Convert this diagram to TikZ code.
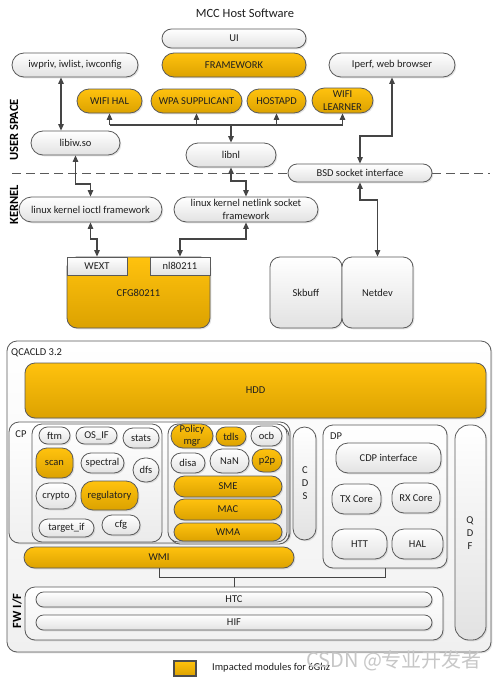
\documentclass[tikz,border=0pt]{standalone}
\usepackage{fontspec}
\setmainfont{Carlito}
\newfontfamily\cjkfont{Noto Sans CJK SC}
\usetikzlibrary{arrows.meta,shadows,calc}
\definecolor{orT}{HTML}{FFC20E}
\definecolor{orB}{HTML}{DCA200}
\definecolor{bd}{HTML}{5A5A5A}
\definecolor{ln}{HTML}{454545}
\definecolor{wB}{HTML}{E2E2E2}
\definecolor{cB}{HTML}{F0F0F0}
\newcommand\bx[7]{%
 \pgfmathsetmacro\rsW{(#4)-(#2)}%
 \pgfmathsetmacro\rsH{(#5)-(#3)}%
 \pgfmathsetmacro\rsR{min(\rsW,\rsH)/2}%
 \node[rounded corners=\rsR pt,#6,minimum width=\rsW pt,minimum height=\rsH pt] (#1) at ({((#2)+(#4))/2},{((#3)+(#5))/2}) {#7};}
\tikzset{
 base/.style={draw=bd, line width=0.8pt, inner sep=0.5pt, align=center, text=black!88},
 shd/.style={drop shadow={shadow xshift=1.3pt,shadow yshift=-1.3pt,opacity=0.22}},
 W/.style={base, top color=white, bottom color=wB, shd},
 O/.style={base, top color=orT, bottom color=orB, shd},
 C/.style={base, top color=white, bottom color=cB, rounded corners=10pt, shd},
 G/.style={base, top color=white, bottom color=wB!70, rounded corners=10pt},
 cn/.style={draw=ln, line width=1.1pt},
 lab/.style={font=\bfseries\fontsize{12.5}{14}\selectfont, inner sep=0pt},
 plain/.style={inner sep=0pt, text=black!88},
}
\begin{document}
\begin{tikzpicture}[x=1pt,y=-1pt,font=\fontsize{10.5}{13}\selectfont,>={Triangle[length=6.5pt,width=5.5pt]}]
\fill[white] (0,0) rectangle (494,680);
\useasboundingbox (0,0) rectangle (494,680);
% helper coordinates
\coordinate (c61) at (61,0);
\coordinate (bus) at (0,125);
\coordinate (y136) at (0,136);
\coordinate (y181) at (0,181);
\coordinate (y184) at (0,184);
\coordinate (y200) at (0,200);
\coordinate (y239) at (0,239);
\coordinate (y577) at (0,577);
% labels
\node[plain,font=\fontsize{12.5}{14}\selectfont] (title) at (245,13) {MCC Host Software};
\node[lab,rotate=90] (us) at (14,130) {USER SPACE};
\node[lab,rotate=90] (kn) at (14,205) {KERNEL};
% dashed separator
\draw[draw=bd,line width=1pt,dash pattern=on 9pt off 5pt] (12,173) -- (490,173);
% user space
\bx{ui}{162}{29}{306}{48}{W}{UI}
\bx{fw}{162}{53}{306}{77}{O}{FRAMEWORK}
\bx{iwpriv}{12}{53}{138}{77}{W}{iwpriv, iwlist, iwconfig}
\bx{iperf}{329}{53}{455}{77}{W}{Iperf, web browser}
\bx{wifihal}{77}{89}{142}{113}{O}{WIFI HAL}
\bx{wpa}{151}{89}{242}{113}{O}{WPA SUPPLICANT}
\bx{hostapd}{247}{89}{306}{113}{O}{HOSTAPD}
\bx{wifil}{312}{88}{373}{113}{O,font=\fontsize{10.5}{12.5}\selectfont}{WIFI\\LEARNER}
\bx{libiw}{31}{131}{120}{155}{W}{libiw.so}
\bx{libnl}{186}{143}{276}{167}{W}{libnl}
\bx{bsd}{288}{164}{432}{182}{W}{BSD socket interface}
% kernel
\bx{ioctl}{19}{197}{162}{222}{W}{linux kernel ioctl framework}
\bx{netlink}{174}{197}{318}{222}{W}{linux kernel netlink socket\\framework}
\bx{cfg}{67}{257}{210}{328}{O,rounded corners=10pt}{CFG80211}
\bx{wext}{67}{257}{127}{275}{W,rounded corners=0pt,drop shadow={opacity=0}}{WEXT}
\bx{nl}{150}{257}{210}{275}{W,rounded corners=0pt,drop shadow={opacity=0}}{nl80211}
\bx{skb}{270}{257}{342}{328}{W,rounded corners=10pt}{Skbuff}
\bx{netdev}{342}{257}{413}{328}{W,rounded corners=10pt}{Netdev}
% connectors top
\draw[cn,<->] (iwpriv.south -| c61) -- (libiw.north -| c61);
\draw[cn] (wifihal.south |- bus) -- (wifil.south |- bus);
\foreach \n in {wifihal,wpa,hostapd,wifil} \draw[cn,->] (\n.south |- bus) -- (\n.south);
\draw[cn,line width=1.5pt,->] (libnl.north |- bus) -- (libnl.north);
\draw[cn,<->] (iperf.south) -- (iperf.south |- y136) -| (bsd.north);
\draw[cn,<->] (libiw.south) -- (libiw.south |- y184) -| (ioctl.north);
\draw[cn,<->] (libnl.south) -- (libnl.south |- y181) -| (netlink.north);
\draw[cn,<->] (bsd.south) -- (bsd.south |- y200) -| (netdev.north);
\draw[cn,<->] (ioctl.south) -- (ioctl.south |- y239) -| (wext.north);
\draw[cn,<->] (netlink.south) -- (netlink.south |- y239) -| (nl.north);
% QCACLD
\bx{qc}{7}{341}{491}{652}{C}{}
\node[plain,anchor=west] (qcl) at (11,353) {QCACLD 3.2};
\bx{hdd}{25}{363}{486}{418}{O,rounded corners=10pt}{HDD}
\bx{cp}{9}{422}{290}{543}{C,drop shadow={opacity=0}}{}
\node[plain] (cpl) at (21,434) {CP};
\bx{cpL}{32}{424}{162}{542}{G}{}
\bx{cpMb}{170}{426}{289}{544}{G}{}
\bx{cpM}{168}{424}{287}{542}{G}{}
\bx{cds}{293}{427}{316}{540}{W}{}
\node[plain,align=center] (cdsl) at (305,483) {C\\D\\S};
\bx{dp}{323}{425}{447}{568}{C}{}
\node[plain] (dpl) at (336,436) {DP};
\bx{qdf}{455}{425}{486}{640}{W,rounded corners=14pt}{}
\node[plain,align=center] (qdfl) at (470,533) {Q\\D\\F};
% CP left group
\bx{ftm}{39}{427}{70}{444}{W}{ftm}
\bx{osif}{76}{427}{117}{444}{W}{OS\_IF}
\bx{stats}{123}{428}{159}{448}{W}{stats}
\bx{scan}{36}{448}{73}{478}{O,rounded corners=11pt}{scan}
\bx{spectral}{81}{453}{124}{473}{W}{spectral}
\bx{dfs}{133}{458}{159}{482}{W,rounded corners=12pt}{dfs}
\bx{crypto}{36}{483}{76}{509}{W}{crypto}
\bx{reg}{81}{481}{138}{510}{O,rounded corners=12pt}{regulatory}
\bx{target}{39}{519}{94}{537}{W}{target\_if}
\bx{cfgn}{102}{515}{140}{535}{W}{cfg}
% CP middle group
\bx{policy}{171}{424}{213}{448}{O,font=\fontsize{10.5}{12.5}\selectfont}{Policy\\mgr}
\bx{tdls}{216}{427}{246}{446}{O}{tdls}
\bx{ocb}{251}{426}{282}{446}{W}{ocb}
\bx{disa}{171}{453}{205}{473}{W}{disa}
\bx{nan}{210}{449}{249}{473}{W}{NaN}
\bx{p2p}{252}{449}{282}{472}{O}{p2p}
\bx{sme}{174}{476}{282}{497}{O}{SME}
\bx{mac}{174}{499}{282}{520}{O}{MAC}
\bx{wma}{174}{523}{282}{541}{O}{WMA}
% DP
\bx{cdp}{336}{443}{441}{473}{W,rounded corners=12pt}{CDP interface}
\bx{tx}{332}{484}{381}{514}{W,rounded corners=12pt}{TX Core}
\bx{rx}{392}{483}{440}{513}{W,rounded corners=12pt}{RX Core}
\bx{htt}{332}{529}{387}{559}{W,rounded corners=12pt}{HTT}
\bx{hal}{392}{529}{443}{559}{W,rounded corners=12pt}{HAL}
% WMI and FW I/F
\bx{wmi}{24}{547}{294}{568}{O}{WMI}
\bx{fwif}{25}{587}{443}{640}{C}{}
\node[lab,rotate=90] (fwl) at (17,611) {FW I/F};
\bx{htc}{36}{592}{432}{607}{W}{HTC}
\bx{hif}{36}{615}{432}{630}{W}{HIF}
\draw[draw=ln,line width=0.9pt] (wmi.south) -- (wmi.south |- y577) -| (dp.south);
\draw[draw=ln,line width=0.9pt] (fwif.north) -- (fwif.north |- y577);
% legend
\bx{leg}{174}{661}{196}{676}{O,rounded corners=0pt,line width=1.2pt,draw=black!70}{}
\node[plain,anchor=west] (legt) at (212,668) {Impacted modules for 6Ghz};
\node[inner sep=0pt,anchor=west,text=black!22,font=\cjkfont\fontsize{20}{20}\selectfont] (wm) at (306,661) {CSDN @专业开发者};
\end{tikzpicture}
\end{document}
